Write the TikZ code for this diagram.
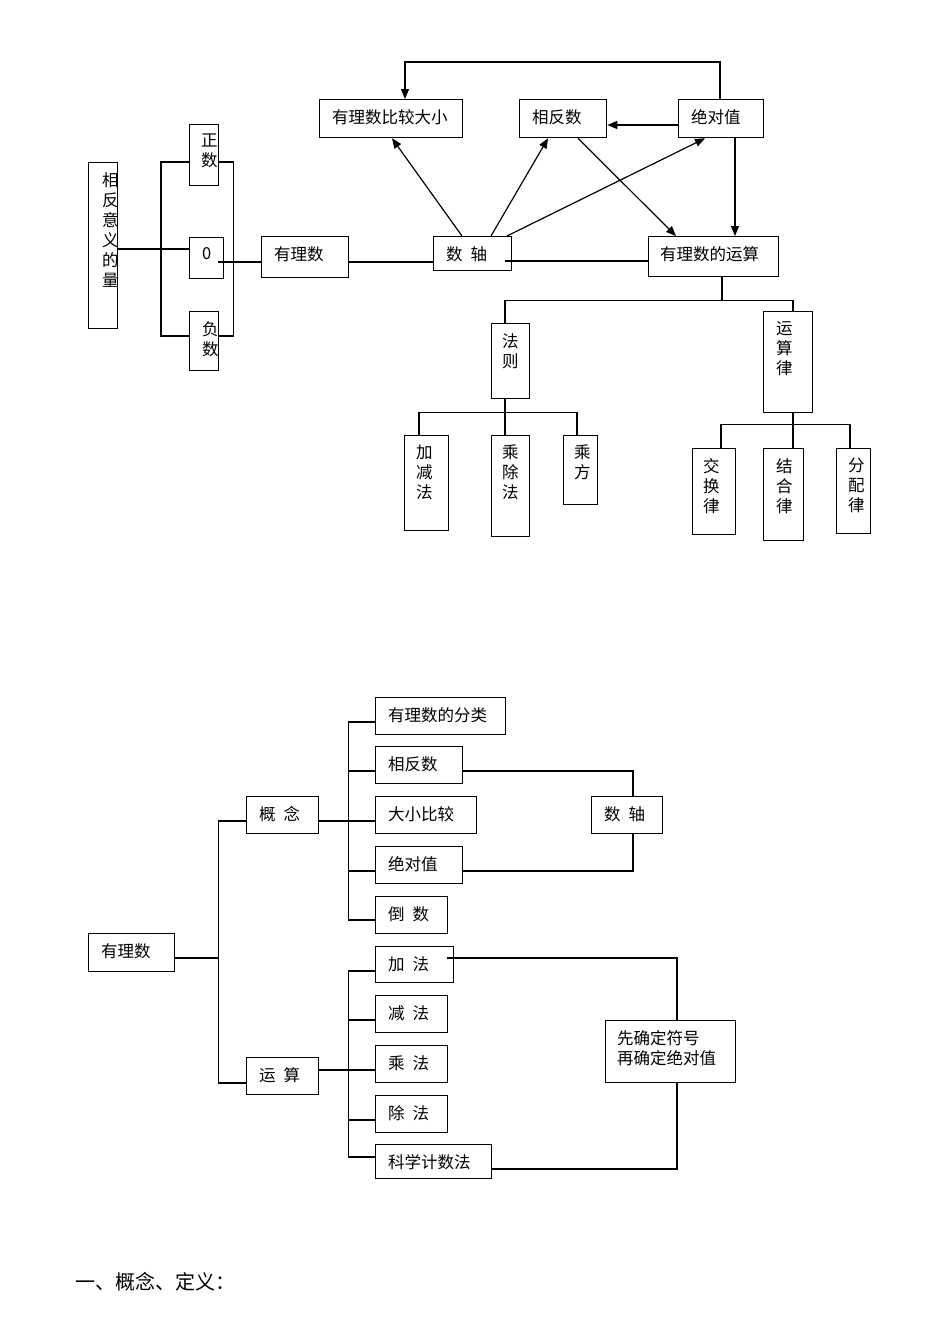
\documentclass[tikz,border=0pt]{standalone}
\usepackage{fontspec}
\newfontfamily\cjk{Noto Sans CJK SC}
\usetikzlibrary{arrows.meta}
\newcommand\gapx{\hspace{8pt}}
\newcommand\bx[8]{\node[bx, minimum width={(#4-#2)*1pt}, minimum height={(#5-#3)*1pt},
  label={[#6, shift={(#7pt,-10pt)}]north west:#8}] (#1) at (#2,#3) {};}
\begin{document}
\begin{tikzpicture}[x=1pt,y=-1pt,
  bx/.style={draw, line width=1.3pt, inner sep=0pt, anchor=north west},
  tx/.style={inner sep=0pt, font=\cjk\fontsize{16.5}{20}\selectfont, anchor=north west},
  txl/.style={tx, align=left},
  vt/.style={tx, align=center, text width=16pt},
  ln/.style={line width=1.2pt},
  ar/.style={ln, -{Triangle[length=10pt,width=8pt]}}]
\useasboundingbox[fill=white] (0,0) rectangle (950,1344);

% ---------- diagram 1 ----------
\bx{q}{88}{162}{117}{328}{vt}{14}{相\\反\\意\\义\\的\\量}
\bx{pos}{189}{124}{218}{185}{vt}{12}{正\\数}
\bx{zero}{189}{237}{223}{278}{tx}{13}{0}
\bx{neg}{189}{311}{218}{370}{vt}{13}{负\\数}
\bx{rat}{261}{236}{348}{277}{tx}{13}{有理数}
\bx{cmp}{319}{99}{462}{137}{tx}{13}{有理数比较大小}
\bx{opp}{519}{99}{606}{137}{tx}{13}{相反数}
\bx{abs}{678}{99}{763}{137}{tx}{13}{绝对值}
\bx{axis}{433}{236}{511}{270}{tx}{13}{数\gapx 轴}
\bx{op}{648}{236}{778}{276}{tx}{12}{有理数的运算}
\bx{rule}{491}{323}{529}{398}{vt}{11}{法\\则}
\bx{law}{763}{311}{812}{412}{vt}{13}{运\\算\\律}
\bx{addsub}{404}{435}{448}{530}{vt}{12}{加\\减\\法}
\bx{muldiv}{491}{435}{529}{536}{vt}{11}{乘\\除\\法}
\bx{pow}{563}{435}{597}{504}{vt}{11}{乘\\方}
\bx{comm}{692}{448}{735}{534}{vt}{11}{交\\换\\律}
\bx{assoc}{763}{448}{803}{540}{vt}{13}{结\\合\\律}
\bx{dist}{836}{448}{870}{533}{vt}{12}{分\\配\\律}

\draw[ln] (q.east |- 0,249) -- (zero.west |- 0,249);
\draw[ln] (pos.west |- 0,162) -- ++(-28,0) |- (neg.west |- 0,336);
\draw[ln] (pos.east |- 0,162) -- ++(14,0) |- (neg.east |- 0,336);
\coordinate (z0) at (218,262);
\draw[ln] (z0) -- (rat.west |- z0);
\draw[ln] (rat.east |- 0,262) -- (axis.west |- 0,262);
\coordinate (a0) at (505,261);
\draw[ln] (a0) -- (op.west |- a0);

\draw[ar] (axis.north -| 462,0) -- (cmp.south -| 392,0);
\draw[ar] (axis.north -| 491,0) -- (opp.south -| 548,0);
\draw[ar] (axis.north -| 507,0) -- (abs.south -| 705,0);
\draw[ar] (opp.south -| 578,0) -- (op.north -| 676,0);
\draw[ar] (abs.south -| 735,0) -- (op.north -| 735,0);
\draw[ar] (abs.west |- 0,125) -- (opp.east |- 0,125);
\draw[ar] (abs.north -| 720,0) -- ++(0,-37) -| (cmp.north -| 405,0);

\draw[ln] (op.south -| 722,0) -- ++(0,23) coordinate (b1);
\draw[ln] (rule.north -| 505,0) |- (b1) -| (law.north -| 793,0);
\draw[ln] (rule.south -| 505,0) -- ++(0,13) coordinate (b2);
\draw[ln] (addsub.north -| 419,0) |- (b2) -| (pow.north -| 577,0);
\draw[ln] (b2) -- (muldiv.north -| 505,0);
\draw[ln] (law.south -| 793,0) -- ++(0,11) coordinate (b3);
\draw[ln] (comm.north -| 721,0) |- (b3) -| (dist.north -| 850,0);
\draw[ln] (b3) -- (assoc.north -| 793,0);

% ---------- diagram 2 ----------
\bx{R}{88}{933}{174}{971}{tx}{13}{有理数}
\bx{C}{246}{796}{318}{833}{tx}{13}{概\gapx 念}
\bx{O}{246}{1057}{318}{1094}{tx}{13}{运\gapx 算}
\bx{c1}{375}{697}{505}{734}{tx}{13}{有理数的分类}
\bx{c2}{375}{746}{462}{783}{tx}{13}{相反数}
\bx{c3}{375}{796}{476}{833}{tx}{13}{大小比较}
\bx{c4}{375}{846}{462}{883}{tx}{13}{绝对值}
\bx{c5}{375}{896}{447}{933}{tx}{13}{倒\gapx 数}
\bx{A2}{591}{796}{662}{833}{tx}{13}{数\gapx 轴}
\bx{o1}{375}{946}{453}{982}{tx}{13}{加\gapx 法}
\bx{o2}{375}{995}{447}{1032}{tx}{13}{减\gapx 法}
\bx{o3}{375}{1045}{447}{1082}{tx}{13}{乘\gapx 法}
\bx{o4}{375}{1095}{447}{1132}{tx}{13}{除\gapx 法}
\bx{o5}{375}{1144}{491}{1178}{tx}{13}{科学计数法}
\bx{S}{605}{1020}{735}{1082}{txl}{12}{先确定符号\\再确定绝对值}

\draw[ln] (R.east |- 0,958) -- ++(43,0) coordinate (b4);
\draw[ln] (C.west |- 0,821) -| (b4) |- (O.west |- 0,1083);
\draw[ln] (C.east |- 0,821) -- ++(29,0) coordinate (b5);
\draw[ln] (c1.west |- 0,722) -| (b5) |- (c5.west |- 0,920);
\draw[ln] (c2.west |- 0,771) -- (b5 |- 0,771);
\draw[ln] (c3.west |- 0,821) -- (b5);
\draw[ln] (c4.west |- 0,871) -- (b5 |- 0,871);
\draw[ln] (c2.east |- 0,771) -| (A2.north -| 633,0);
\draw[ln] (c4.east |- 0,871) -| (A2.south -| 633,0);

\draw[ln] (O.east |- 0,1070) -- ++(29,0) coordinate (b6);
\draw[ln] (o1.west |- 0,971) -| (b6) |- (o5.west |- 0,1157);
\draw[ln] (o2.west |- 0,1020) -- (b6 |- 0,1020);
\draw[ln] (o3.west |- 0,1070) -- (b6);
\draw[ln] (o4.west |- 0,1120) -- (b6 |- 0,1120);
\coordinate (p0) at (447,958);
\draw[ln] (p0) -| (S.north -| 677,0);
\draw[ln] (S.south -| 677,0) |- (o5.east |- 0,1169);

\node[inner sep=0pt, anchor=west, font=\cjk\fontsize{20}{24}\selectfont] (h) at (75,1282) {一、概念、定义：};
\end{tikzpicture}
\end{document}
